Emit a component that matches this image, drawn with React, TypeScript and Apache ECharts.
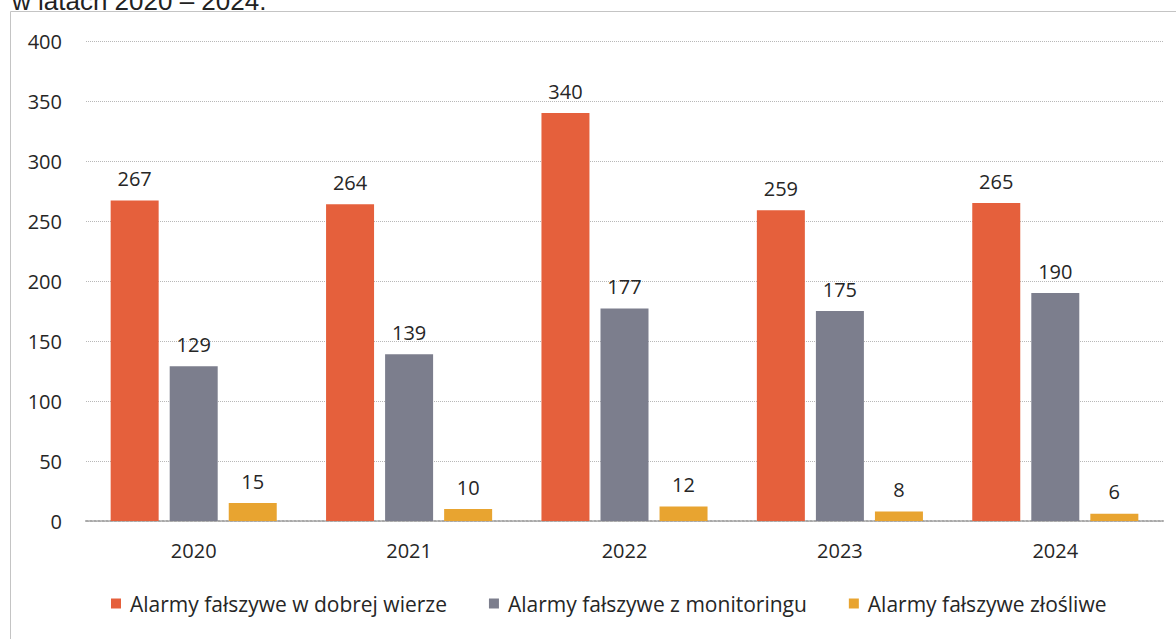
import React, { useEffect, useRef } from "react";
import * as echarts from "echarts";

const years = ["2020", "2021", "2022", "2023", "2024"];
const seriesNames = [
  "Alarmy fałszywe w dobrej wierze",
  "Alarmy fałszywe z monitoringu",
  "Alarmy fałszywe złośliwe",
];
const goodFaith = [267, 264, 340, 259, 265];
const monitoring = [129, 139, 177, 175, 190];
const malicious = [15, 10, 12, 8, 6];
const colors = ["#E5603C", "#7C7E8D", "#E8A430"];
const titleText = "w latach 2020 – 2024.";

const FONT = "'Open Sans', 'Noto Sans', sans-serif";

export default function App() {
  const ref = useRef<HTMLDivElement>(null);
  useEffect(() => {
    document.body.style.margin = "0";
    const chart = echarts.init(ref.current!, undefined, { renderer: "svg" });
    const label = {
      show: true,
      position: "top" as const,
      distance: 12,
      fontSize: 20,
      color: "#262626",
      fontFamily: FONT,
    };
    const data = [goodFaith, monitoring, malicious];
    chart.setOption({
      animation: false,
      backgroundColor: "#ffffff",
      graphic: [
        {
          type: "rect",
          shape: { x: 10.5, y: 11.5, width: 1200, height: 700 },
          style: { fill: "none", stroke: "#c4c4c4", lineWidth: 1 },
          silent: true,
        },
        {
          type: "text",
          x: 12,
          y: 1,
          style: {
            text: titleText,
            fontSize: 26,
            fontFamily: "'Liberation Sans', Arial, sans-serif",
            fill: "#222",
            verticalAlign: "middle",
          },
        },
      ],
      grid: { left: 86, right: 13, top: 41, bottom: 118, containLabel: false },
      legend: {
        bottom: 20,
        left: 106,
        itemWidth: 10,
        itemHeight: 10,
        itemGap: 42,
        icon: "rect",
        textStyle: {
          fontSize: 21,
          color: "#262626",
          fontFamily: FONT,
          padding: [0, 0, 0, 4],
        },
        data: seriesNames,
      },
      xAxis: {
        type: "category",
        data: years,
        axisLine: { show: true, lineStyle: { color: "#a9a9a9", width: 2, type: "dotted" } },
        axisTick: { show: false },
        axisLabel: { fontSize: 20, color: "#262626", fontFamily: FONT, margin: 19 },
      },
      yAxis: {
        type: "value",
        min: 0,
        max: 400,
        interval: 50,
        axisLine: { show: false },
        axisTick: { show: false },
        axisLabel: { fontSize: 20, color: "#262626", fontFamily: FONT, margin: 24 },
        splitLine: { lineStyle: { color: "#b8b8b8", type: "dotted", width: 1 } },
      },
      series: seriesNames.map((name, i) => ({
        name,
        type: "bar",
        data: data[i],
        barWidth: 48,
        barGap: "23%",
        itemStyle: { color: colors[i] },
        label,
      })),
    });
    return () => chart.dispose();
  }, []);
  return <div ref={ref} style={{ width: 1176, height: 639 }} />;
}
